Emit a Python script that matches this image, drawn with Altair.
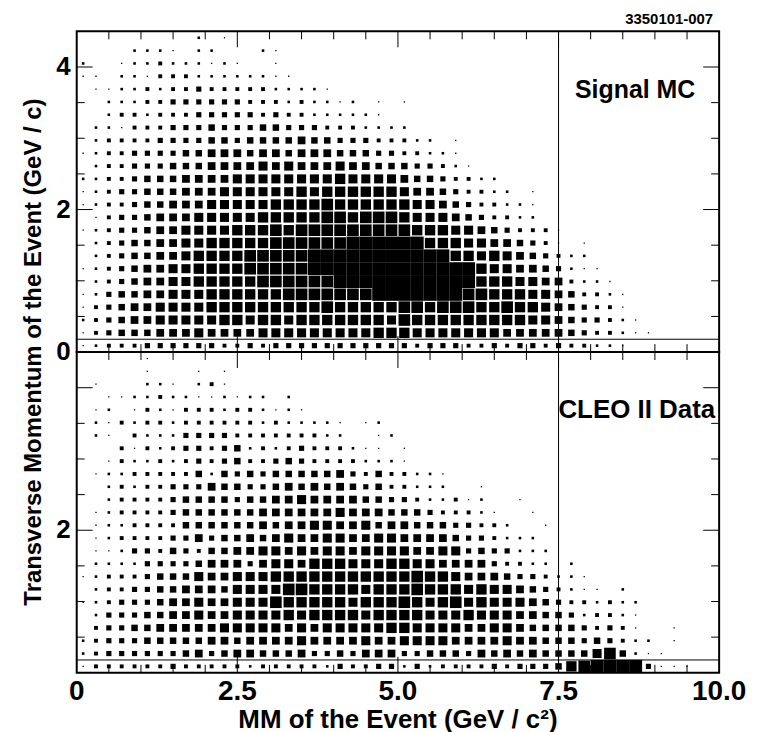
import altair as alt
import pandas as pd

# ---------------- data ----------------
# Box-size level (hex digit: 0 = empty ... 9 = nearly full bin, A = box filling the whole bin)
# for each MM bin (0.2 GeV/c^2 wide, 50 bins over 0-10) and each transverse-momentum bin
# (0.18 GeV/c high, 25 bins over 0-4.5).  Rows run from the highest pT bin (row 24) down to
# the lowest (row 0); spaces only group the MM bins in fives.
X_BIN = 0.2
Y_BIN = 0.18

SIGNAL_MC_ROWS = [
    "00000 00002 01",
    "00002 22102 20002 1",
    "20012 23222 12100 1",
    "11022 13332 22222 11",
    "01122 32334 33333 22221",
    "00222 33444 44433 32322 12010 1",
    "00233 23334 44443 43322 22210",
    "02213 33444 54445 54443 33222 2",
    "02333 34444 55455 55655 44433 32201",
    "12334 44455 66656 65666 55544 33221",
    "02334 44555 66667 67666 76655 54432 1",
    "22334 55566 66777 77777 87777 65543 322",
    "12344 55566 67777 77878 88888 76654 33220 1",
    "12334 55666 77777 88889 88888 87765 43322 1",
    "01344 56667 77778 88889 98999 87776 54332 2",
    "12344 56677 77888 98999 99999 98887 76543 331",
    "02345 56677 88888 99999 9AAAA AA888 77665 43101",
    "02345 56678 88899 999AA AAAAA AAAA8 87876 54322",
    "12345 66778 88899 999AA AAAAA AAAAA A8776 65421 1",
    "02345 66778 88889 99999 AAAAA AAAAA A8887 76632 21",
    "12455 66777 88888 89999 999AA AAAAA 99888 77653 321",
    "13456 67777 88888 88889 88888 99899 98898 87654 331",
    "23456 67777 78878 87888 88887 98888 88888 77654 4321",
    "13455 56667 66667 77777 77788 87777 77766 66654 33211",
    "12333 44444 43343 44444 44444 43444 33434 43433 221",
]

CLEO_DATA_ROWS = [
    "00000 1",
    "00000 10001 01",
    "01000 22102 31",
    "00112 23221 12122 02",
    "01201 32133 32332 121",
    "02132 33233 33332 32222 10120",
    "02103 22244 44333 33332 20012",
    "00031 32344 34523 23433 32110 1",
    "00132 23234 34533 45433 33222 1",
    "01223 33335 25454 55555 64353 3221",
    "00232 33444 65544 56565 65453 32220 01",
    "00233 33455 55455 66766 66554 43223 12001",
    "01233 33455 55556 66666 76665 55433 32100 1",
    "01223 33355 55556 56677 66756 65554 43320 01",
    "01233 33446 45565 67667 76677 66665 44322 2",
    "01124 43543 55667 76767 76777 76677 45442 22",
    "02222 44445 66646 77688 87778 87766 66433 22020",
    "12333 45557 66777 88888 88888 89887 66654 43221",
    "02334 45566 65777 79988 88788 89888 78776 54321 102",
    "12344 45667 66777 98888 87888 98789 78777 65433 2322",
    "02444 55667 66777 78788 88788 88777 87776 65542 3321",
    "03445 56666 67777 76767 77778 87777 66776 55554 34310 01",
    "23444 55555 66566 66766 66766 77776 66676 65554 54322 01",
    "23444 44456 45665 55644 54666 44555 46565 65555 79521 1",
    "13333 33433 33323 33332 43344 24233 33434 44589 AAAA41 11",
]

X_LABEL_VALUES = [0, 2.5, 5.0, 7.5, 10.0]
X_LABEL_TEXT = ["0", "2.5", "5.0", "7.5", "10.0"]
X_MINOR_TICKS = [0.5, 1.0, 1.5, 2.0, 3.0, 3.5, 4.0, 4.5, 5.5, 6.0, 6.5, 7.0, 8.0, 8.5, 9.0, 9.5]
X_MAJOR_TICKS = [2.5, 5.0, 7.5]
Y_MINOR_TICKS = [0.5, 1.0, 1.5, 2.5, 3.0, 3.5]
Y_MAJOR_TICKS = [2.0, 4.0]
TOP_Y_LABEL_VALUES = [0, 2, 4]
TOP_Y_LABEL_TEXT = ["0", "2", "4"]
BOTTOM_Y_LABEL_VALUES = [2]
BOTTOM_Y_LABEL_TEXT = ["2"]
CUT_MM = [7.5]
CUT_PT = [0.18]

FIGURE_ID = "3350101-007"
TOP_LABEL = "Signal MC"
BOTTOM_LABEL = "CLEO II Data"
X_TITLE = "MM of the Event (GeV / c²)"
Y_TITLE = "Transverse Momentum of the Event (GeV / c)"

# ---------------- chart ----------------
FONT = "Liberation Sans"
W, H = 645, 322
XS = alt.Scale(domain=[0, 10], nice=False, zero=False)
YS = alt.Scale(domain=[0, 4.5], nice=False, zero=False)


def grid_frame(rows):
    recs = []
    n = len(rows)
    for r, s in enumerate(rows):
        j = n - 1 - r
        for i, ch in enumerate(s.replace(" ", "")):
            lv = int(ch, 16)
            if lv > 0:
                recs.append({"mm": (i + 0.5) * X_BIN, "pt": (j + 0.5) * Y_BIN, "level": lv})
    return pd.DataFrame(recs)


def vrules(vals, y0, y1, sw=1):
    return alt.Chart(pd.DataFrame({"v": vals})).mark_rule(color="black", strokeWidth=sw).encode(
        x=alt.X("v:Q", scale=XS, axis=None), y=alt.value(y0), y2=alt.value(y1))


def hrules(vals, x0, x1, sw=1):
    return alt.Chart(pd.DataFrame({"v": vals})).mark_rule(color="black", strokeWidth=sw).encode(
        y=alt.Y("v:Q", scale=YS, axis=None), x=alt.value(x0), x2=alt.value(x1))


def text_at(txt, x, y, size, align="right", angle=0):
    return alt.Chart(pd.DataFrame({"t": [txt]})).mark_text(
        align=align, baseline="alphabetic", font=FONT, fontWeight="bold", angle=angle,
        fontSize=size, color="black").encode(text="t:N", x=alt.value(x), y=alt.value(y))


def y_labels(values, texts):
    return alt.Chart(pd.DataFrame({"v": values, "t": texts})).mark_text(
        align="right", baseline="middle", font=FONT, fontWeight="bold", fontSize=26,
        color="black").encode(y=alt.Y("v:Q", scale=YS, axis=None), x=alt.value(-6), text="t:N")


def x_labels(values, texts):
    return alt.Chart(pd.DataFrame({"v": values, "t": texts})).mark_text(
        align="center", baseline="alphabetic", font=FONT, fontWeight="bold", fontSize=28,
        color="black").encode(x=alt.X("v:Q", scale=XS, axis=None), y=alt.value(H + 27), text="t:N")


def panel(rows, top):
    df = grid_frame(rows)
    squares = alt.Chart(df).mark_square(filled=True, color="black", opacity=1, strokeWidth=0).encode(
        x=alt.X("mm:Q", scale=XS, axis=None),
        y=alt.Y("pt:Q", scale=YS, axis=None),
        size=alt.Size("level:Q", scale=alt.Scale(type="pow", exponent=2, domain=[0, 10], range=[0, 169]),
                      legend=None),
    )
    layers = [
        squares,
        vrules(X_MINOR_TICKS, 0, 8), vrules(X_MAJOR_TICKS, 0, 16),
        vrules(X_MINOR_TICKS, H, H - 8), vrules(X_MAJOR_TICKS, H, H - 16),
        hrules(Y_MINOR_TICKS, 0, 8), hrules(Y_MAJOR_TICKS, 0, 16),
        hrules(Y_MINOR_TICKS, W, W - 8), hrules(Y_MAJOR_TICKS, W, W - 16),
        vrules(CUT_MM, 0, H), hrules(CUT_PT, 0, W),
    ]
    if top:
        layers += [
            y_labels(TOP_Y_LABEL_VALUES, TOP_Y_LABEL_TEXT),
            text_at(TOP_LABEL, 621, 67, 25),
            text_at(FIGURE_ID, 639, -7, 15),
            text_at(Y_TITLE, -36, 322, 24, align="center", angle=270),
        ]
    else:
        layers += [
            y_labels(BOTTOM_Y_LABEL_VALUES, BOTTOM_Y_LABEL_TEXT),
            x_labels(X_LABEL_VALUES, X_LABEL_TEXT),
            text_at(BOTTOM_LABEL, 641, 66, 26),
            text_at(X_TITLE, W / 2, H + 55, 26, align="center"),
        ]
    return alt.layer(*layers).properties(width=W, height=H)


top_panel = panel(SIGNAL_MC_ROWS, True)
bottom_panel = panel(CLEO_DATA_ROWS, False)

chart = alt.vconcat(top_panel, bottom_panel, spacing=0, bounds="flush").properties(
    padding={"left": 12, "top": 2, "right": 5, "bottom": 0},
    background="white",
).configure_view(stroke="black", strokeWidth=2)

chart.save("out.html", embed_options={"renderer": "svg", "actions": False})
